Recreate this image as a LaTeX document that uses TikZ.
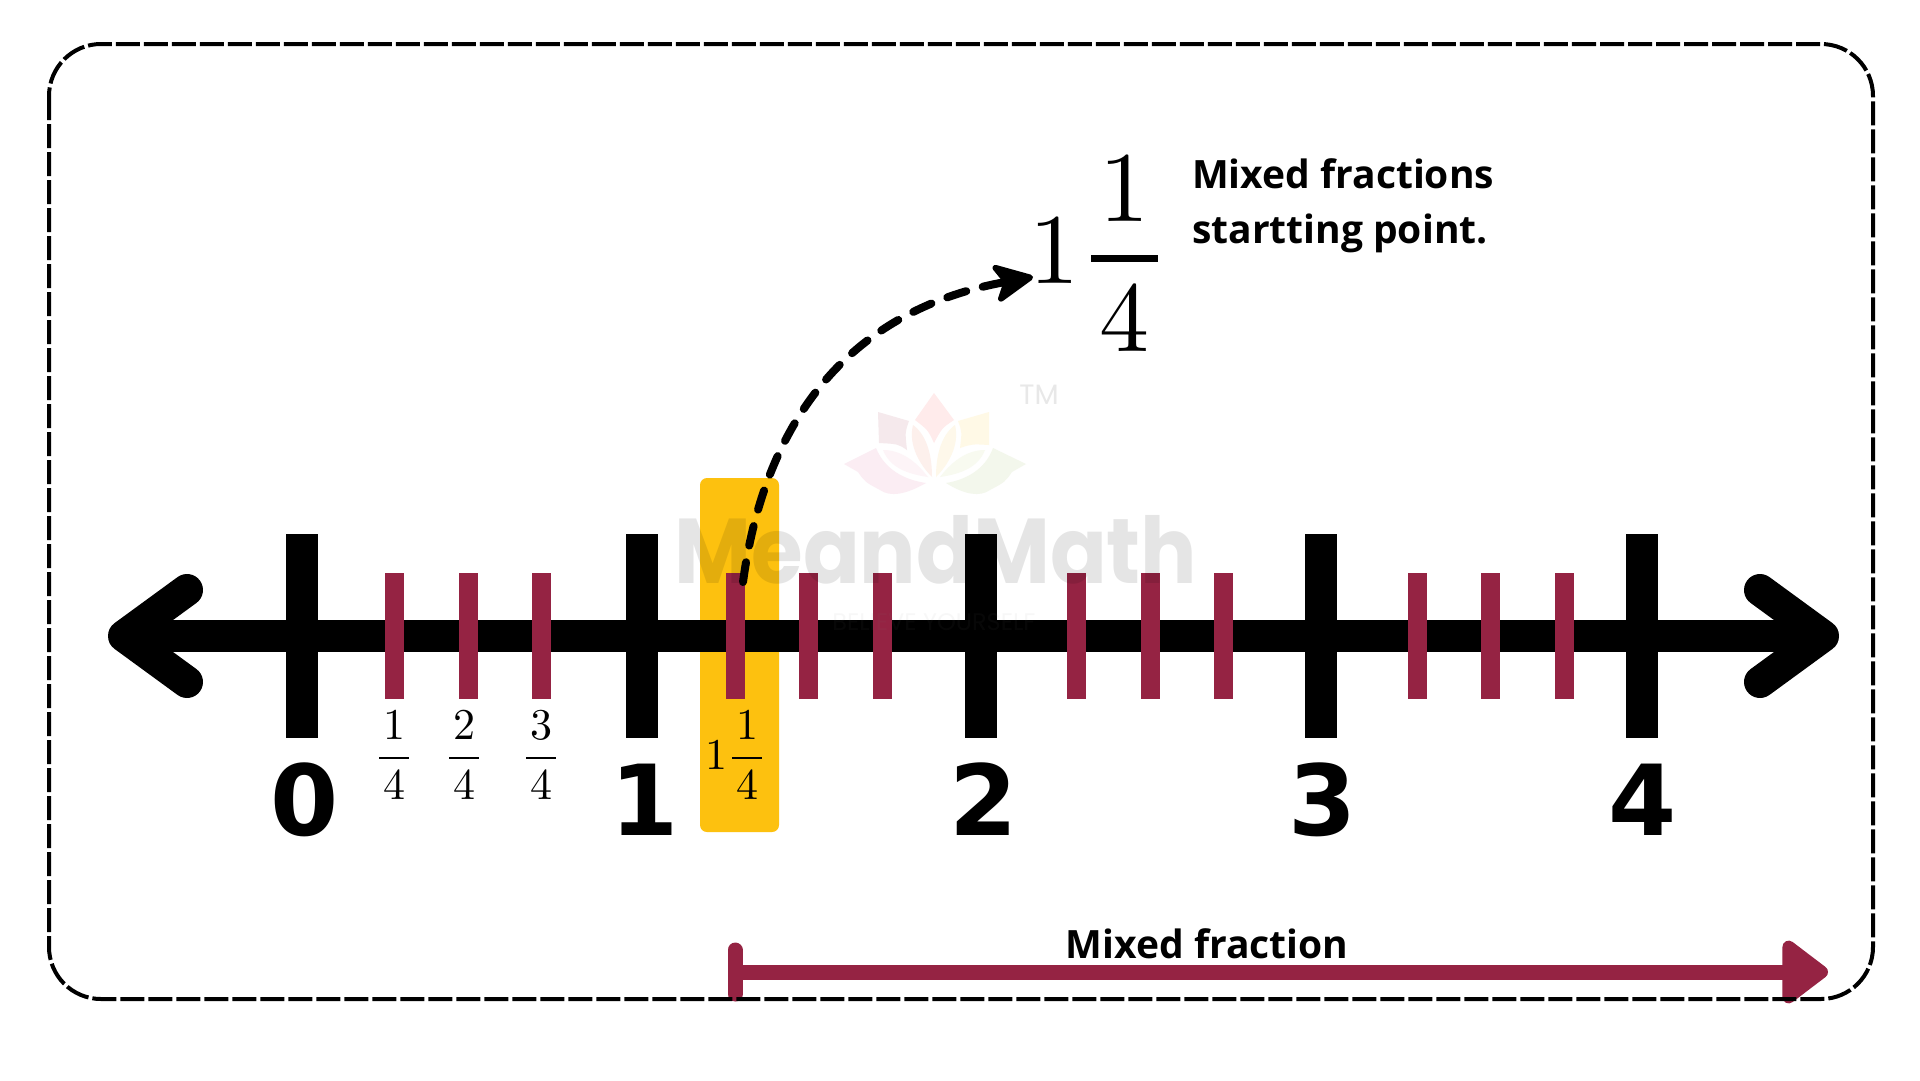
\documentclass[tikz,border=0pt]{standalone}
\usepackage[no-math]{fontspec}
\usepackage{amsmath}
\usepackage{graphicx}
\usetikzlibrary{arrows.meta}
\newfontfamily\labelfont{Open Sans}
\newfontfamily\digitfont{DejaVu Sans}
\newfontfamily\markfont{Poppins}
\definecolor{maroon}{HTML}{952343}
\definecolor{amber}{HTML}{FDC10F}
\newcommand{\smallfrac}[2]{\scalebox{4.4}{$\genfrac{}{}{0.6pt}{0}{\mkern1.5mu #1\mkern1.5mu}{\mkern1.5mu #2\mkern1.5mu}$}}
\tikzset{
  blacktick/.style={line width=32pt,black},
  fractick/.style={line width=19pt,maroon},
  whole/.style={anchor=base,inner sep=0pt,font=\digitfont\bfseries\fontsize{98}{98}\selectfont},
  fraclabel/.style={anchor=base,inner sep=0pt},
  caption/.style={inner sep=0pt,font=\labelfont\bfseries\fontsize{39}{55}\selectfont},
  petal/.style={draw=none}
}
\begin{document}
\begin{tikzpicture}[x=1pt,y=-1pt]
\useasboundingbox (0,0) rectangle (1920,1080);
\fill[white] (0,0) rectangle (1920,1080);
% highlight
\fill[amber,rounded corners=7pt] (700,478) rectangle (779,832);
% bottom arrow
\coordinate (mixS) at (735,972);
\coordinate (mixE) at (1828,972);
\draw[line width=15pt,maroon,line cap=round] (735,950) -- (735,994);
\draw[line width=15pt,maroon,-{Triangle[length=50pt,width=72pt,round,line width=14pt,fill=maroon]}] (mixS) -- (mixE);
% border
\draw[line width=4pt,black,dash pattern=on 24pt off 4pt,rounded corners=52pt] (49,44) rectangle (1873,999);
% axis
\coordinate (axL) at (124,636);
\coordinate (axR) at (1823,636);
\draw[line width=32pt,black] (axL) -- (axR);
\draw[line width=32pt,black,line cap=round,line join=round] (187,590) -- (axL) -- (187,682);
\draw[line width=32pt,black,line cap=round,line join=round] (1760,590) -- (axR) -- (1760,682);
% ticks
\foreach \x in {302,642,981,1321,1642} \draw[blacktick] (\x,534) -- (\x,738);
\foreach \x in {394,468,541,735,808,882,1076,1150,1223,1417,1490,1564} \draw[fractick] (\x,573) -- (\x,699);
% whole numbers
\node[whole] (n0) at (305,835) {0};
\node[whole] (n1) at (645,835) {1};
\node[whole] (n2) at (984,835) {2};
\node[whole] (n3) at (1323,835) {3};
\node[whole] (n4) at (1643,835) {4};
% small fractions
\node[fraclabel] (f1) at (394,769) {\smallfrac{1}{4}};
\node[fraclabel] (f2) at (464,769) {\smallfrac{2}{4}};
\node[fraclabel] (f3) at (541,769) {\smallfrac{3}{4}};
\node[fraclabel,anchor=base west] (f4) at (705,769) {\scalebox{4.4}{$1\genfrac{}{}{0.6pt}{0}{\mkern1.5mu 1\mkern1.5mu}{\mkern1.5mu 4\mkern1.5mu}$}};
% big mixed fraction
\node[fraclabel,anchor=base west] (big) at (1029,283) {\scalebox{10}{$1\genfrac{}{}{0.7pt}{0}{\mkern1.5mu \raisebox{-0.6pt}{$1$}\mkern1.5mu}{\mkern1.5mu 4\mkern1.5mu}$}};
\coordinate (curveS) at (743,582);
\coordinate (curveE) at (1033,277);
\draw[line width=8pt,black,line cap=round,dash pattern=on 20pt off 17pt,
  -{Stealth[length=46pt,width=44pt,inset=12pt,round,line width=6pt]}]
  (curveS) .. controls (765,420) and (850,310) .. (curveE);
% captions
\node[caption,anchor=base west,align=left] (cap) at (1192,243) {Mixed fractions\\startting point.};
\node[caption,anchor=base] (mixlabel) at (1207,958) {Mixed fraction};
% watermark
\fill[petal,fill=red!8] (934,393) -- (954,420) .. controls (942,428) .. (934,443) .. controls (928,430) .. (915,420) -- cycle;
\fill[petal,fill={rgb,255:red,245;green,233;blue,236}] (878,412) -- (909,421) .. controls (905,432) .. (907,450) .. controls (898,444) .. (879,443) -- cycle;
\fill[petal,fill={rgb,255:red,255;green,249;blue,230}] (989,412) -- (958,421) .. controls (962,432) .. (960,448) .. controls (972,444) .. (989,445) -- cycle;
\fill[petal,fill={rgb,255:red,251;green,237;blue,243}] (844,464) -- (876,448) .. controls (885,470) and (905,480) .. (926,483) .. controls (905,495) and (890,497) .. (880,490) .. controls (865,482) .. (858,472) -- cycle;
\fill[petal,fill={rgb,255:red,243;green,247;blue,236}] (1026,464) -- (993,448) .. controls (985,470) and (965,480) .. (946,483) .. controls (965,495) and (980,497) .. (990,490) .. controls (1005,482) .. (1012,472) -- cycle;
\fill[petal,fill={rgb,255:red,253;green,240;blue,236}] (913,425) .. controls (928,436) and (932,458) .. (932,477) .. controls (920,465) and (908,445) .. (913,425) -- cycle;
\fill[petal,fill={rgb,255:red,254;green,248;blue,234}] (955,425) .. controls (940,436) and (936,458) .. (936,477) .. controls (948,465) and (960,445) .. (955,425) -- cycle;
\fill[petal,fill={rgb,255:red,253;green,244;blue,247}] (883,450) .. controls (900,450) and (915,460) .. (928,477) .. controls (908,474) and (890,468) .. (883,450) -- cycle;
\fill[petal,fill={rgb,255:red,248;green,250;blue,240}] (985,450) .. controls (968,450) and (953,460) .. (940,477) .. controls (960,474) and (978,468) .. (985,450) -- cycle;
\node[anchor=base,inner sep=0pt,text=black!9,font=\markfont\fontsize{28}{28}\selectfont] (tm) at (1039,404) {TM};
\node[anchor=base,inner sep=0pt,opacity=0.1,text=black,font=\markfont\bfseries\fontsize{92}{92}\selectfont] (mark) at (936,583) {\scalebox{0.91}[1]{MeandMath}};
\node[anchor=base,inner sep=0pt,opacity=0.06,text=gray,font=\markfont\fontsize{24}{24}\selectfont] (tag) at (934,630) {BELIEVE YOURSELF};
\end{tikzpicture}
\end{document}
